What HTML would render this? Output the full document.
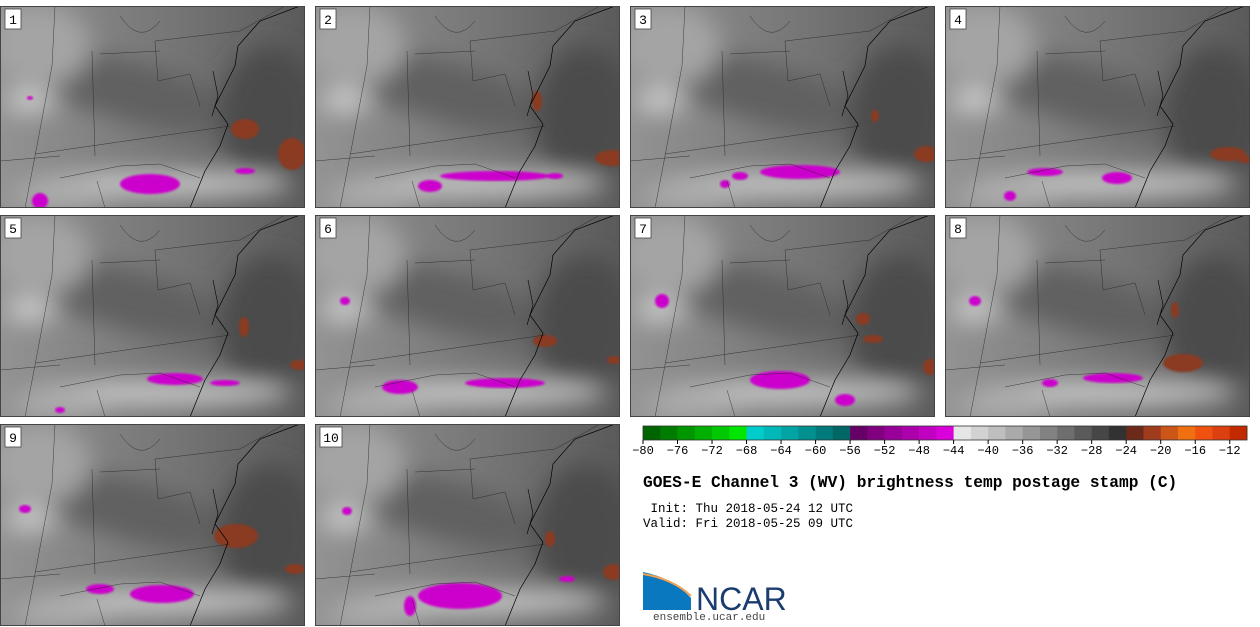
<!DOCTYPE html>
<html><head><meta charset="utf-8">
<style>
body{margin:0;background:#fff;width:1260px;height:627px;overflow:hidden;position:relative;font-family:"Liberation Mono",monospace}
.panel{position:absolute;width:305px;height:202px}
.title{position:absolute;left:643px;top:474px;font-size:16.2px;font-weight:bold;color:#000;white-space:nowrap}
.info{position:absolute;left:643px;top:502px;font-size:12.5px;line-height:15px;white-space:pre;color:#000}
.tick{position:absolute;top:444px;font-size:12px;transform:translateX(-50%);color:#000}
</style></head><body>
<div id="panels"></div>
<svg id="cbar" style="position:absolute;left:0;top:0" width="1260" height="627"></svg>
<div id="ticks"></div>
<div class="title">GOES-E Channel 3 (WV) brightness temp postage stamp (C)</div>
<div class="info"> Init: Thu 2018-05-24 12 UTC
Valid: Fri 2018-05-25 09 UTC</div>
<svg style="position:absolute;left:643px;top:570px" width="150" height="45">
<path d="M0 2 Q30 8 48 28 L48 40 L0 40 Z" fill="#0a78bf"/>
<path d="M0 4 Q30 9 48 26" stroke="#f0a050" stroke-width="2" fill="none"/>
<text x="53" y="40" font-family="Liberation Sans,sans-serif" font-size="32" fill="#1b3c6e">NCAR</text>
</svg>
<div style="position:absolute;left:653px;top:612px;font-size:11px;color:#444">ensemble.ucar.edu</div>
<script>
const binEdgesStart = -80;
const binStep = 2;
const binColors = ["#006400","#007d00","#009600","#00b000","#00c800","#00e600",
"#00cccc","#00b8b8","#00a4a4","#009090","#007a7a","#006666",
"#660066","#800080","#990099","#ad00ad","#c200c2","#d900d9",
"#e6e6e6","#d2d2d2","#bebebe","#aaaaaa","#969696","#828282","#6e6e6e","#5a5a5a","#464646","#323232",
"#6b2a1a","#a03c1e","#cc5518","#ee7010","#f05010","#dd4010","#c42a00"];
const tickLabels = [-80,-76,-72,-68,-64,-60,-56,-52,-48,-44,-40,-36,-32,-28,-24,-20,-16,-12];
const NS="http://www.w3.org/2000/svg";
const cb=document.getElementById('cbar');
const cx0=643, cx1=1247, cy=426, ch=14;
const vmin=binEdgesStart, vmax=binEdgesStart+binStep*binColors.length;
const xs=v=>cx0+(v-vmin)/(vmax-vmin)*(cx1-cx0);
binColors.forEach((c,i)=>{
  const r=document.createElementNS(NS,'rect');
  const v=vmin+i*binStep;
  r.setAttribute('x',xs(v));r.setAttribute('y',cy);
  r.setAttribute('width',xs(v+binStep)-xs(v)+0.3);r.setAttribute('height',ch);
  r.setAttribute('fill',c);
  
  
  cb.appendChild(r);
});
const ob=document.createElementNS(NS,'rect');
ob.setAttribute('x',cx0);ob.setAttribute('y',cy);ob.setAttribute('width',cx1-cx0);ob.setAttribute('height',ch);
ob.setAttribute('fill','none');ob.setAttribute('stroke','#333');ob.setAttribute('stroke-width','0.8');
cb.appendChild(ob);
const tk=document.getElementById('ticks');
tickLabels.forEach(t=>{
  const l=document.createElementNS(NS,'line');
  l.setAttribute('x1',xs(t));l.setAttribute('x2',xs(t));l.setAttribute('y1',cy+ch);l.setAttribute('y2',cy+ch+4);
  l.setAttribute('stroke','#000');cb.appendChild(l);
  const d=document.createElement('div');d.className='tick';d.style.left=xs(t)+'px';
  d.textContent=String(t).replace('-','\u2212');
  
  
  tk.appendChild(d);
});

const panelPos=[[0,6],[315,6],[630,6],[945,6],[0,215],[315,215],[630,215],[945,215],[0,424],[315,424]];
const magenta=[
 [[150,178,30,10],[245,165,10,3],[40,195,8,8],[30,92,3,2]],
 [[180,170,55,5],[115,180,12,6],[240,170,8,3]],
 [[170,166,40,7],[110,170,8,4],[95,178,5,4]],
 [[100,166,18,4],[172,172,15,6],[65,190,6,5]],
 [[175,164,28,6],[225,168,15,3],[60,195,5,3]],
 [[85,172,18,7],[190,168,40,5],[30,86,5,4]],
 [[150,165,30,9],[215,185,10,6],[32,86,7,7]],
 [[168,163,30,5],[105,168,8,4],[30,86,6,5]],
 [[162,170,32,9],[100,165,14,5],[25,85,6,4]],
 [[145,172,42,13],[95,182,6,10],[252,155,8,3],[32,87,5,4]]];
const brown=[
 [[245,123,14,10],[292,148,14,16]],
 [[222,95,5,10],[298,152,18,8]],
 [[296,148,12,8],[245,110,4,6]],
 [[283,148,18,7],[300,153,8,4]],
 [[244,112,5,10],[300,150,10,5]],
 [[230,126,12,6],[300,145,8,4]],
 [[233,104,7,6],[243,124,10,4],[300,152,7,8]],
 [[238,148,20,9],[230,95,4,8]],
 [[236,112,22,12],[295,145,10,5]],
 [[235,115,5,8],[298,148,10,8]]];
const wrap=document.getElementById('panels');
panelPos.forEach((p,i)=>{
  const s=document.createElementNS(NS,'svg');
  s.setAttribute('class','panel');s.style.left=p[0]+'px';s.style.top=p[1]+'px';
  s.setAttribute('width',305);s.setAttribute('height',202);
  
  
  const bw=i==9?22:16;
  let h=`<defs><filter id="b${i}" x="-50%" y="-50%" width="200%" height="200%"><feGaussianBlur stdDeviation="12"/></filter>
  <filter id="s${i}"><feGaussianBlur stdDeviation="1"/></filter>
  <linearGradient id="g${i}" x1="0" x2="1" y1="0" y2="0"><stop offset="0" stop-color="#939393"/><stop offset="0.6" stop-color="#747474"/><stop offset="1" stop-color="#5a5a5a"/></linearGradient></defs>
  <rect width="305" height="202" fill="url(#g${i})"/>
  <g filter="url(#b${i})">
   <ellipse cx="130" cy="85" rx="110" ry="30" fill="#606060" transform="rotate(15 130 85)"/>
   <ellipse cx="270" cy="110" rx="50" ry="70" fill="#4c4c4c"/>
   <ellipse cx="40" cy="40" rx="50" ry="40" fill="#a4a4a4"/>
   <ellipse cx="30" cy="95" rx="25" ry="12" fill="#cccccc"/>
   <ellipse cx="160" cy="178" rx="130" ry="12" fill="#cacaca"/>
   <ellipse cx="60" cy="190" rx="50" ry="15" fill="#aaaaaa"/>
  </g>`;
  magenta[i].forEach(m=>{h+=`<ellipse cx="${m[0]}" cy="${m[1]}" rx="${m[2]}" ry="${m[3]}" fill="#cc00cc" filter="url(#s${i})"/>`;});
  brown[i].forEach(m=>{h+=`<ellipse cx="${m[0]}" cy="${m[1]}" rx="${m[2]}" ry="${m[3]}" fill="#8a3a22" filter="url(#s${i})"/>`;});
  h+=`<g stroke="#222" stroke-width="0.5" fill="none" opacity="0.8">
   <path d="M35 148 L230 120"/><path d="M0 155 L60 150"/><path d="M55 0 L52 60 L35 150 L25 202"/>
   <path d="M92 45 L95 150"/><path d="M155 35 L240 25"/><path d="M155 35 L158 75 L190 68 L200 100"/>
   <path d="M60 172 L120 160 L160 158 L200 172"/><path d="M97 175 L105 202"/>
   <path d="M100 48 L160 45"/><path d="M120 10 Q140 40 160 15"/><path d="M240 25 L285 0"/>
  </g>
  <path d="M300 0 L260 15 L238 40 L235 60 L225 80 L215 100 L228 118 L220 140 L205 165 L190 202" stroke="#000" stroke-width="0.7" fill="none"/>
  <path d="M213 65 L218 90 L212 110" stroke="#000" stroke-width="0.6" fill="none"/>
  <rect x="0.5" y="0.5" width="304" height="201" fill="none" stroke="#444"/>
  <rect x="5" y="3" width="${bw}" height="20" fill="#fff" stroke="#444" stroke-width="0.8"/>
  <text x="${5+bw/2}" y="18" text-anchor="middle" font-family="Liberation Mono,monospace" font-size="13" fill="#000">${i+1}</text>`;
  s.innerHTML=h;
  wrap.appendChild(s);
});
</script>
</body></html>
